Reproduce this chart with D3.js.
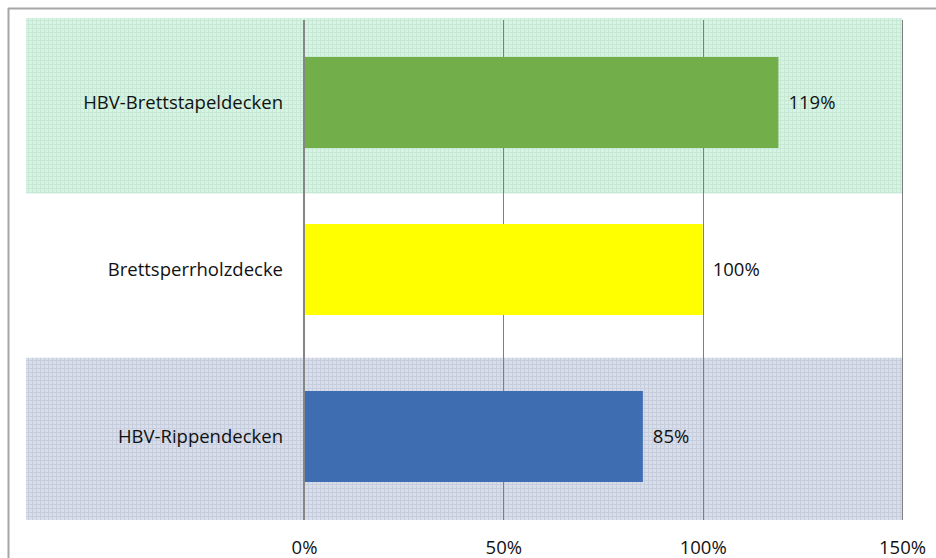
<!DOCTYPE html>
<html>
<head>
<meta charset="utf-8">
<script src="https://cdn.jsdelivr.net/npm/d3@7"></script>
<style>
  html, body { margin: 0; padding: 0; background: #fff; }
  svg { display: block; font-family: "Open Sans", "Liberation Sans", sans-serif; }
</style>
</head>
<body>
<svg id="chart" width="936" height="558"></svg>
<script>
// Relative comparison of ceiling systems (Brettsperrholzdecke = 100%)
const categories = ["HBV-Brettstapeldecken", "Brettsperrholzdecke", "HBV-Rippendecken"];
const values = [119, 100, 85];
const barColors = ["#72ae4a", "#ffff00", "#3e6db2"];
// Background bands, given on a 0..3 vertical axis (bottom = 0)
const bandFrom = [1.95, 0.97, 0];
const bandTo = [3, 1.95, 0.97];
const bandFills = ["url(#gridGreen)", "#ffffff", "url(#gridBlue)"];
const tickValues = [0, 50, 100, 150];

const svg = d3.select("#chart");

// Fine-mesh fills for the shaded category bands
const defs = svg.append("defs");
function meshPattern(id, base, line) {
  const p = defs.append("pattern")
    .attr("id", id).attr("patternUnits", "userSpaceOnUse")
    .attr("width", 4).attr("height", 4);
  p.append("rect").attr("width", 4).attr("height", 4).attr("fill", base);
  p.append("rect").attr("x", 0).attr("y", 0).attr("width", 4).attr("height", 1).attr("fill", line);
  p.append("rect").attr("x", 0).attr("y", 0).attr("width", 1).attr("height", 4).attr("fill", line);
}
meshPattern("gridGreen", "#d8f2e4", "#c6e9d5");
meshPattern("gridBlue", "#d9deea", "#c6cddd");

// Frame lines
svg.append("line").attr("x1", 8).attr("x2", 936).attr("y1", 8.5).attr("y2", 8.5)
  .attr("stroke", "#a6a6a6").attr("stroke-width", 2);
svg.append("line").attr("x1", 8.5).attr("x2", 8.5).attr("y1", 8).attr("y2", 558)
  .attr("stroke", "#a6a6a6").attr("stroke-width", 2);

const plot = { left: 304, right: 902, top: 18, bottom: 520 };

const x = d3.scaleLinear().domain([0, 150]).range([plot.left, plot.right]);
const yBand = d3.scaleLinear().domain([0, 3]).range([plot.bottom, plot.top]);
const barScale = d3.scaleBand().domain(categories).range([plot.top + 1, plot.bottom])
  .paddingInner(0.455).paddingOuter(0.2275);

// Category bands
svg.append("g").selectAll("rect")
  .data(categories)
  .join("rect")
  .attr("x", 26)
  .attr("width", plot.right - 26)
  .attr("y", (d, i) => yBand(bandTo[i]))
  .attr("height", (d, i) => yBand(bandFrom[i]) - yBand(bandTo[i]))
  .attr("fill", (d, i) => bandFills[i]);

// Vertical gridlines
svg.append("g").selectAll("line")
  .data(tickValues.slice(1))
  .join("line")
  .attr("x1", d => Math.round(x(d)) + 0.5)
  .attr("x2", d => Math.round(x(d)) + 0.5)
  .attr("y1", 20).attr("y2", plot.bottom)
  .attr("stroke", "#7f7f7f").attr("stroke-width", 1);

// Bars
svg.append("g").selectAll("rect")
  .data(categories)
  .join("rect")
  .attr("x", x(0))
  .attr("y", d => barScale(d))
  .attr("width", (d, i) => x(values[i]) - x(0))
  .attr("height", barScale.bandwidth())
  .attr("fill", (d, i) => barColors[i]);

// Zero axis
svg.append("line")
  .attr("x1", x(0)).attr("x2", x(0))
  .attr("y1", 20).attr("y2", plot.bottom)
  .attr("stroke", "#868686").attr("stroke-width", 2);

// Category labels
svg.append("g").selectAll("text")
  .data(categories)
  .join("text")
  .attr("x", 283)
  .attr("y", d => barScale(d) + barScale.bandwidth() / 2)
  .attr("dy", "0.35em")
  .attr("text-anchor", "end")
  .attr("font-size", 18.5)
  .attr("fill", "#111")
  .text(d => d);

// Value labels
svg.append("g").selectAll("text")
  .data(categories)
  .join("text")
  .attr("x", (d, i) => x(values[i]) + 10)
  .attr("y", d => barScale(d) + barScale.bandwidth() / 2)
  .attr("dy", "0.35em")
  .attr("font-size", 18.5)
  .attr("fill", "#111")
  .text((d, i) => values[i] + "%");

// X axis tick labels
const xAxis = d3.axisBottom(x).tickValues(tickValues).tickSize(0).tickPadding(0)
  .tickFormat(d => d + "%");
const gx = svg.append("g").attr("transform", "translate(0,541)").call(xAxis);
gx.select(".domain").remove();
gx.selectAll("text").attr("font-size", 18.5).attr("fill", "#111")
  .attr("font-family", "\"Open Sans\", \"Liberation Sans\", sans-serif");
</script>
</body>
</html>
